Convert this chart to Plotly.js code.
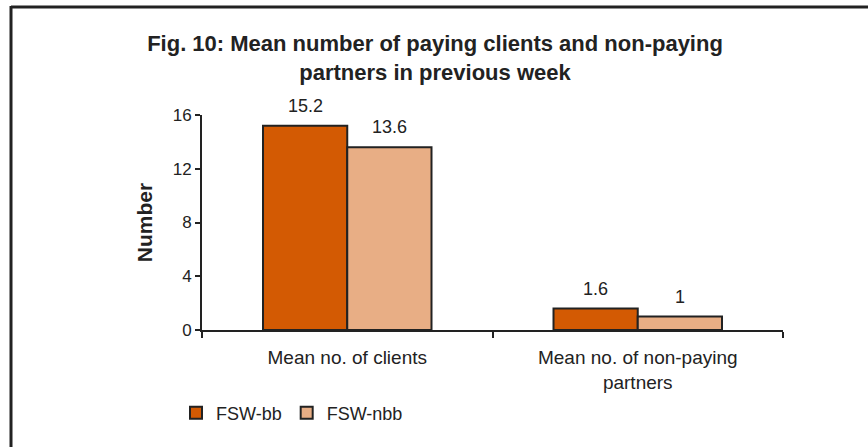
<!DOCTYPE html>
<html>
<head>
<meta charset="utf-8">
<script src="https://cdn.plot.ly/plotly-3.0.1.min.js"></script>
<style>html,body{margin:0;padding:0;background:#fff;}#chart{width:868px;height:447px;}</style>
</head>
<body>
<div id="chart"></div>
<script>
var categories = ["Mean no. of clients", "Mean no. of non-paying<br>partners"];
var seriesNames = ["FSW-bb", "FSW-nbb"];
var fswBB = [15.2, 1.6];
var fswNBB = [13.6, 1];
var yTicks = [0, 4, 8, 12, 16];

var W = 868, H = 447, L = 202, R = 85, T = 115, B = 117;
var pw = W - L - R, ph = H - T - B;
var BARGAP = 0.42;
function px(x){ return (x - L) / pw; }
function py(y){ return (H - B - y) / ph; }

var FONT = 'Liberation Sans, Arial, sans-serif';
var t1 = {
  type: 'bar', x: categories, y: fswBB, name: seriesNames[0],
  marker: {color: '#D35A03', line: {color: '#222', width: 2}}
};
var t2 = {
  type: 'bar', x: categories, y: fswNBB, name: seriesNames[1],
  marker: {color: '#E8AE85', line: {color: '#222', width: 2}}
};

// data labels above bars
var halfBar = (1 - BARGAP) * pw / categories.length / 4;
var annotations = [];
[fswBB, fswNBB].forEach(function(vals, s){
  vals.forEach(function(v, j){
    annotations.push({
      x: categories[j], y: v, xref: 'x', yref: 'y',
      text: String(v), showarrow: false,
      xshift: (s === 0 ? -1 : 1) * halfBar, yshift: 20,
      yanchor: 'middle', xanchor: 'center',
      font: {family: FONT, size: 18, color: '#222'}
    });
  });
});

var layout = {
  width: W, height: H,
  margin: {l: L, r: R, t: T, b: B},
  paper_bgcolor: '#fff', plot_bgcolor: '#fff',
  font: {family: FONT, color: '#222'},
  title: {
    text: '<b>Fig. 10: Mean number of paying clients and non-paying<br>partners in previous week</b>',
    font: {size: 22, color: '#222'},
    xref: 'container', x: 435 / W, xanchor: 'center',
    yref: 'container', y: 1 - 51 / H, yanchor: 'middle'
  },
  barmode: 'group',
  bargap: BARGAP,
  bargroupgap: 0,
  showlegend: true,
  legend: {
    orientation: 'h', x: px(176), xanchor: 'left', y: py(413), yanchor: 'middle',
    font: {size: 18, color: '#222'}, itemwidth: 30, traceorder: 'normal'
  },
  xaxis: {
    showline: true, linecolor: '#222', linewidth: 2,
    ticks: 'outside', tickson: 'boundaries', ticklen: 6, tickwidth: 2, tickcolor: '#222',
    tickfont: {size: 19, color: '#222'}, ticklabelstandoff: 9,
    showgrid: false, zeroline: false
  },
  yaxis: {
    range: [0, 16], tickvals: yTicks, ticktext: yTicks.map(String),
    showline: true, linecolor: '#222', linewidth: 2,
    ticks: 'outside', ticklen: 5, tickwidth: 2, tickcolor: '#222',
    tickfont: {size: 17, color: '#222'},
    showgrid: false, zeroline: false,
    title: {text: '<b>Number</b>', font: {size: 21, color: '#222'}, standoff: 14}
  },
  annotations: annotations,
  shapes: [
    {type: 'line', xref: 'paper', yref: 'paper', x0: px(11), x1: px(868), y0: py(7), y1: py(7), line: {color: '#222', width: 3}},
    {type: 'line', xref: 'paper', yref: 'paper', x0: px(11), x1: px(11), y0: py(6), y1: py(447), line: {color: '#222', width: 3}}
  ]
};

Plotly.newPlot('chart', [t1, t2], layout, {displayModeBar: false, staticPlot: true});
</script>
</body>
</html>
